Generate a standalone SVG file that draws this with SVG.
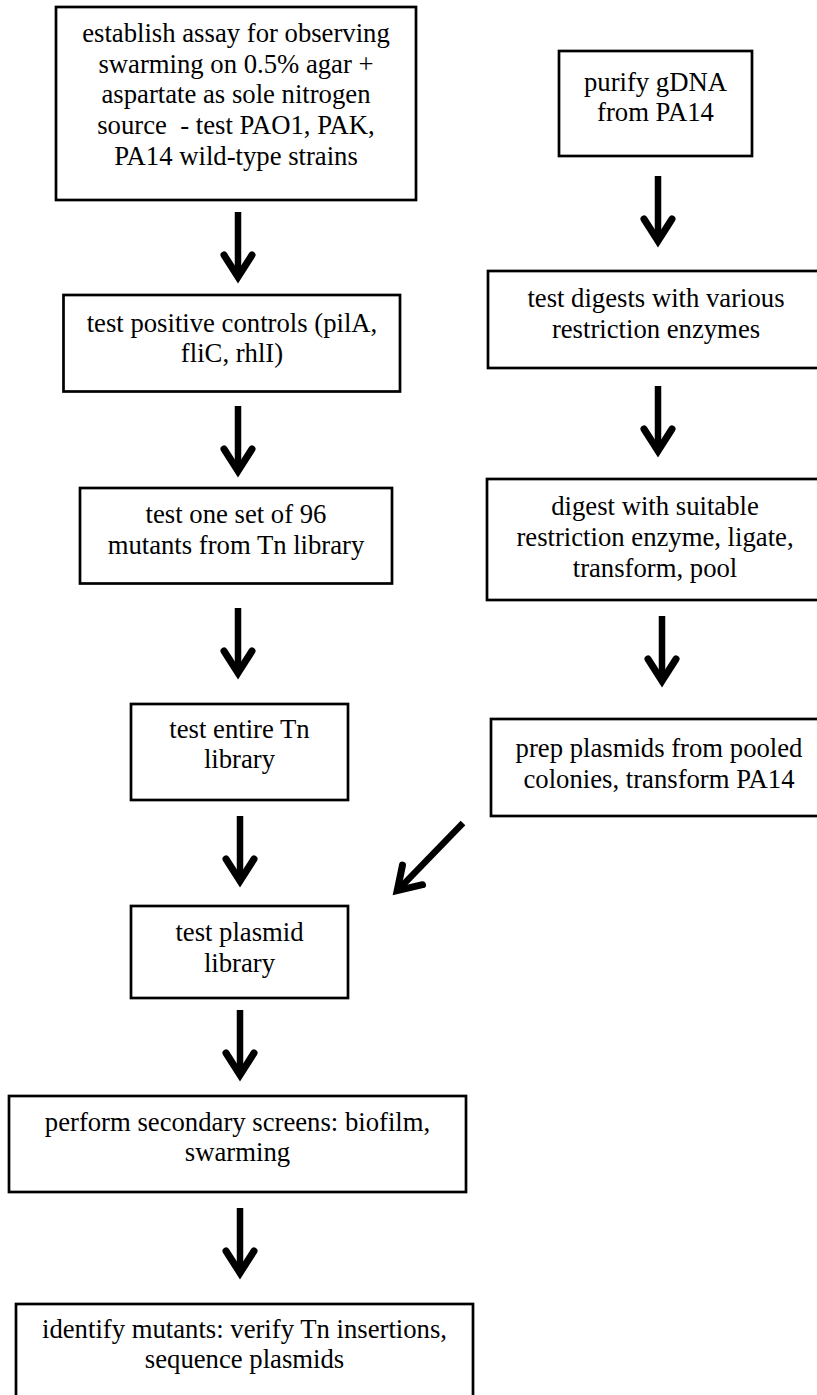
<svg xmlns="http://www.w3.org/2000/svg" xmlns:xlink="http://www.w3.org/1999/xlink" width="817" height="1395" viewBox="0 0 817 1395">
<style>
.box{fill:#fff;stroke:#000;stroke-width:2.7}
.t{font-family:"Liberation Serif","Times New Roman",serif;font-size:26.7px;fill:#000;text-anchor:middle}
.shaft{stroke:#000;stroke-width:6.5;fill:none}
.head{stroke:#000;stroke-width:7;fill:none;stroke-linecap:round;stroke-linejoin:miter;stroke-miterlimit:10}
</style>
<defs>
<polyline id="ah" class="head" points="-14,-28 0,-6 14,-28"/>
</defs>
<rect width="817" height="1395" fill="#fff"/>
<g id="n1"><rect class="box" x="56" y="7" width="360" height="193"/>
<text class="t"><tspan x="236" y="42">establish assay for observing</tspan><tspan x="236" y="72.7">swarming on 0.5% agar +</tspan><tspan x="236" y="103.4">aspartate as sole nitrogen</tspan><tspan x="236" y="134.1">source&#160; - test PAO1, PAK,</tspan><tspan x="236" y="164.8">PA14 wild-type strains</tspan></text></g>
<g id="n2"><rect class="box" x="63.5" y="295" width="336.5" height="96.5"/>
<text class="t"><tspan x="232" y="332">test positive controls (pilA,</tspan><tspan x="232" y="362">fliC, rhlI)</tspan></text></g>
<g id="n3"><rect class="box" x="80" y="488" width="312" height="95.5"/>
<text class="t"><tspan x="236" y="523">test one set of 96</tspan><tspan x="236" y="553.5">mutants from Tn library</tspan></text></g>
<g id="n4"><rect class="box" x="131" y="704" width="217" height="96"/>
<text class="t"><tspan x="239.5" y="738">test entire Tn</tspan><tspan x="239.5" y="768">library</tspan></text></g>
<g id="n5"><rect class="box" x="131" y="906" width="217" height="92"/>
<text class="t"><tspan x="239.5" y="941">test plasmid</tspan><tspan x="239.5" y="972">library</tspan></text></g>
<g id="n6"><rect class="box" x="9" y="1096" width="457" height="96"/>
<text class="t"><tspan x="237.5" y="1131">perform secondary screens: biofilm,</tspan><tspan x="237.5" y="1161">swarming</tspan></text></g>
<g id="n7"><rect class="box" x="16" y="1304" width="457" height="100"/>
<text class="t"><tspan x="244.5" y="1338">identify mutants: verify Tn insertions,</tspan><tspan x="244.5" y="1368">sequence plasmids</tspan></text></g>
<g id="r1"><rect class="box" x="559" y="51" width="193" height="105"/>
<text class="t"><tspan x="655.5" y="91">purify gDNA</tspan><tspan x="655.5" y="121">from PA14</tspan></text></g>
<g id="r2"><rect class="box" x="488" y="271" width="340" height="97"/>
<text class="t"><tspan x="656" y="307">test digests with various</tspan><tspan x="656" y="338">restriction enzymes</tspan></text></g>
<g id="r3"><rect class="box" x="487" y="479" width="340" height="121"/>
<text class="t"><tspan x="655" y="515">digest with suitable</tspan><tspan x="655" y="546">restriction enzyme, ligate,</tspan><tspan x="655" y="577">transform, pool</tspan></text></g>
<g id="r4"><rect class="box" x="491" y="719" width="340" height="97"/>
<text class="t"><tspan x="659" y="757">prep plasmids from pooled</tspan><tspan x="659" y="788">colonies, transform PA14</tspan></text></g>
<g id="connectors">
<line class="shaft" x1="238" y1="212" x2="238" y2="277"/><use xlink:href="#ah" x="238" y="283"/>
<line class="shaft" x1="238" y1="406" x2="238" y2="471"/><use xlink:href="#ah" x="238" y="477"/>
<line class="shaft" x1="238" y1="608" x2="238" y2="673"/><use xlink:href="#ah" x="238" y="679"/>
<line class="shaft" x1="240" y1="816" x2="240" y2="881"/><use xlink:href="#ah" x="240" y="887"/>
<line class="shaft" x1="240" y1="1010" x2="240" y2="1075"/><use xlink:href="#ah" x="240" y="1081"/>
<line class="shaft" x1="240" y1="1208" x2="240" y2="1273"/><use xlink:href="#ah" x="240" y="1279"/>
<line class="shaft" x1="658" y1="176" x2="658" y2="241"/><use xlink:href="#ah" x="658" y="247"/>
<line class="shaft" x1="658" y1="386" x2="658" y2="451"/><use xlink:href="#ah" x="658" y="457"/>
<line class="shaft" x1="662" y1="616" x2="662" y2="681"/><use xlink:href="#ah" x="662" y="687"/>
<line class="shaft" x1="463" y1="823" x2="397.5" y2="890.5"/><use xlink:href="#ah" transform="translate(393,895) rotate(44.2)"/>
</g>
</svg>
